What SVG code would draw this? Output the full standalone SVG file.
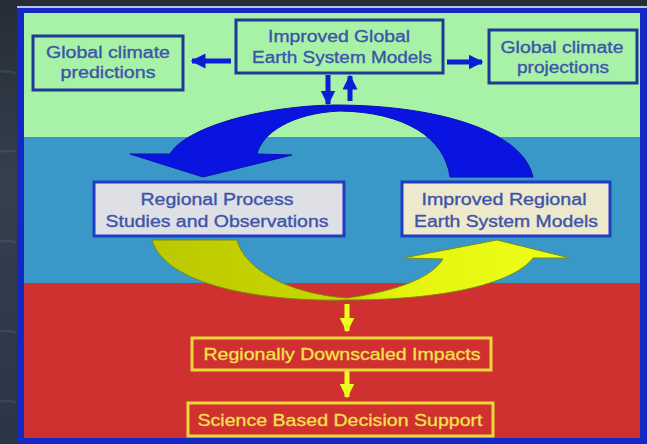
<svg xmlns="http://www.w3.org/2000/svg" width="647" height="444" viewBox="0 0 647 444">
<defs>
<linearGradient id="bg" x1="0" y1="0" x2="0" y2="1">
<stop offset="0" stop-color="#262c34"/>
<stop offset="0.4" stop-color="#34404e"/>
<stop offset="1" stop-color="#2a3646"/>
</linearGradient>
<linearGradient id="yel" x1="0" y1="0" x2="1" y2="0">
<stop offset="0" stop-color="#bcc800"/>
<stop offset="0.45" stop-color="#c8d800"/>
<stop offset="0.6" stop-color="#e4f410"/>
<stop offset="1" stop-color="#eeff18"/>
</linearGradient>
<marker id="ba" viewBox="0 0 10 10" refX="9" refY="5" markerWidth="3" markerHeight="3" orient="auto">
<path d="M0,0 L10,5 L0,10 Z" fill="#0a1ed8"/>
</marker>
<marker id="ya" viewBox="0 0 10 10" refX="9" refY="5" markerWidth="3" markerHeight="3" orient="auto">
<path d="M0,0 L10,5 L0,10 Z" fill="#eaff20"/>
</marker>
<style>
.t{font-family:"Liberation Sans",Arial,sans-serif;font-size:16px;text-anchor:middle;fill:#3d55a8;stroke:#3d55a8;stroke-width:0.35;}
.ty{font-family:"Liberation Sans",Arial,sans-serif;font-size:17px;text-anchor:middle;fill:#f2e24c;stroke:#f2e24c;stroke-width:0.3;}
.bx{fill:#a8f2a8;stroke:#1e3a96;stroke-width:3;}
.bm{stroke:#1e3cc4;stroke-width:3;}
.by{fill:#d03030;stroke:#ecd63a;stroke-width:3;}
.ab{stroke:#0a1ed8;stroke-width:5;fill:none;marker-end:url(#ba);}
.ay{stroke:#eaff20;stroke-width:5;fill:none;marker-end:url(#ya);}
</style>
</defs>
<rect x="0" y="0" width="647" height="444" fill="url(#bg)"/>
<g opacity="0.35" stroke="#5a6c84" stroke-width="2" fill="none">
<path d="M0,70 C5,75 10,68 16,74"/>
<path d="M0,150 C6,155 10,148 16,152"/>
<path d="M0,240 C5,244 11,238 16,243"/>
<path d="M0,330 C6,334 10,328 16,333"/>
<path d="M0,400 C5,404 11,398 16,403"/>
</g>
<rect x="17" y="6" width="630" height="2" fill="#b8c0e8"/>
<rect x="17" y="8" width="630" height="436" fill="#1428c4"/>
<rect x="24" y="13" width="616" height="124" fill="#a8f2a8"/>
<rect x="24" y="137" width="616" height="146" fill="#3a98c8"/>
<rect x="24" y="283" width="616" height="155" fill="#cf3030"/>

<g id="connectors">
<path d="M130,154 L170,154 C185,128 260,106 335,105 C430,105 522,128 533,177 L450,177 C445,138 405,112 340,111 C292,113 262,133 257,154 L292,155 L203,177 Z" fill="#0a14e0" stroke="#0a10b0" stroke-width="1"/>
<path d="M152,240 L237,240 C245,270 290,294 347,298 C390,292 430,280 443,259 L403,258 L497,240 L570,258 L533,258 C515,282 450,300 347,300 C260,302 165,285 152,240 Z" fill="url(#yel)" stroke="#7a8a10" stroke-width="1"/>
<path class="ab" d="M231,61 L192,61"/>
<path class="ab" d="M447,62 L482,62"/>
<path class="ab" d="M328,75 L328,104"/>
<path class="ab" d="M350,101 L350,76"/>
<path class="ay" d="M347,304 L347,331"/>
<path class="ay" d="M347,371 L347,397"/>
</g>

<g id="n-predictions">
<rect class="bx" x="33" y="36" width="150" height="54"/>
<text class="t" x="108" y="58" textLength="124" lengthAdjust="spacingAndGlyphs">Global climate</text>
<text class="t" x="108" y="78" textLength="95" lengthAdjust="spacingAndGlyphs">predictions</text>
</g>
<g id="n-global-esm">
<rect class="bx" x="236" y="20" width="207" height="53"/>
<text class="t" x="339" y="42" textLength="142" lengthAdjust="spacingAndGlyphs">Improved Global</text>
<text class="t" x="342" y="63" textLength="180" lengthAdjust="spacingAndGlyphs">Earth System Models</text>
</g>
<g id="n-projections">
<rect class="bx" x="489" y="30" width="148" height="53"/>
<text class="t" x="562" y="53" textLength="123" lengthAdjust="spacingAndGlyphs">Global climate</text>
<text class="t" x="563" y="73" textLength="92" lengthAdjust="spacingAndGlyphs">projections</text>
</g>
<g id="n-regional-process">
<rect class="bm" x="94" y="182" width="250" height="54" fill="#dfdfe6"/>
<text class="t" x="217" y="205" textLength="153" lengthAdjust="spacingAndGlyphs">Regional Process</text>
<text class="t" x="217" y="227" textLength="223" lengthAdjust="spacingAndGlyphs">Studies and Observations</text>
</g>
<g id="n-regional-esm">
<rect class="bm" x="402" y="182" width="208" height="54" fill="#eee9cc"/>
<text class="t" x="504" y="205" textLength="165" lengthAdjust="spacingAndGlyphs">Improved Regional</text>
<text class="t" x="506" y="227" textLength="184" lengthAdjust="spacingAndGlyphs">Earth System Models</text>
</g>
<g id="n-downscaled">
<rect class="by" x="192" y="338" width="299" height="32"/>
<text class="ty" x="342" y="360" textLength="277" lengthAdjust="spacingAndGlyphs">Regionally Downscaled Impacts</text>
</g>
<g id="n-decision">
<rect class="by" x="188" y="403" width="305" height="33"/>
<text class="ty" x="340" y="426" textLength="285" lengthAdjust="spacingAndGlyphs">Science Based Decision Support</text>
</g>
</svg>
